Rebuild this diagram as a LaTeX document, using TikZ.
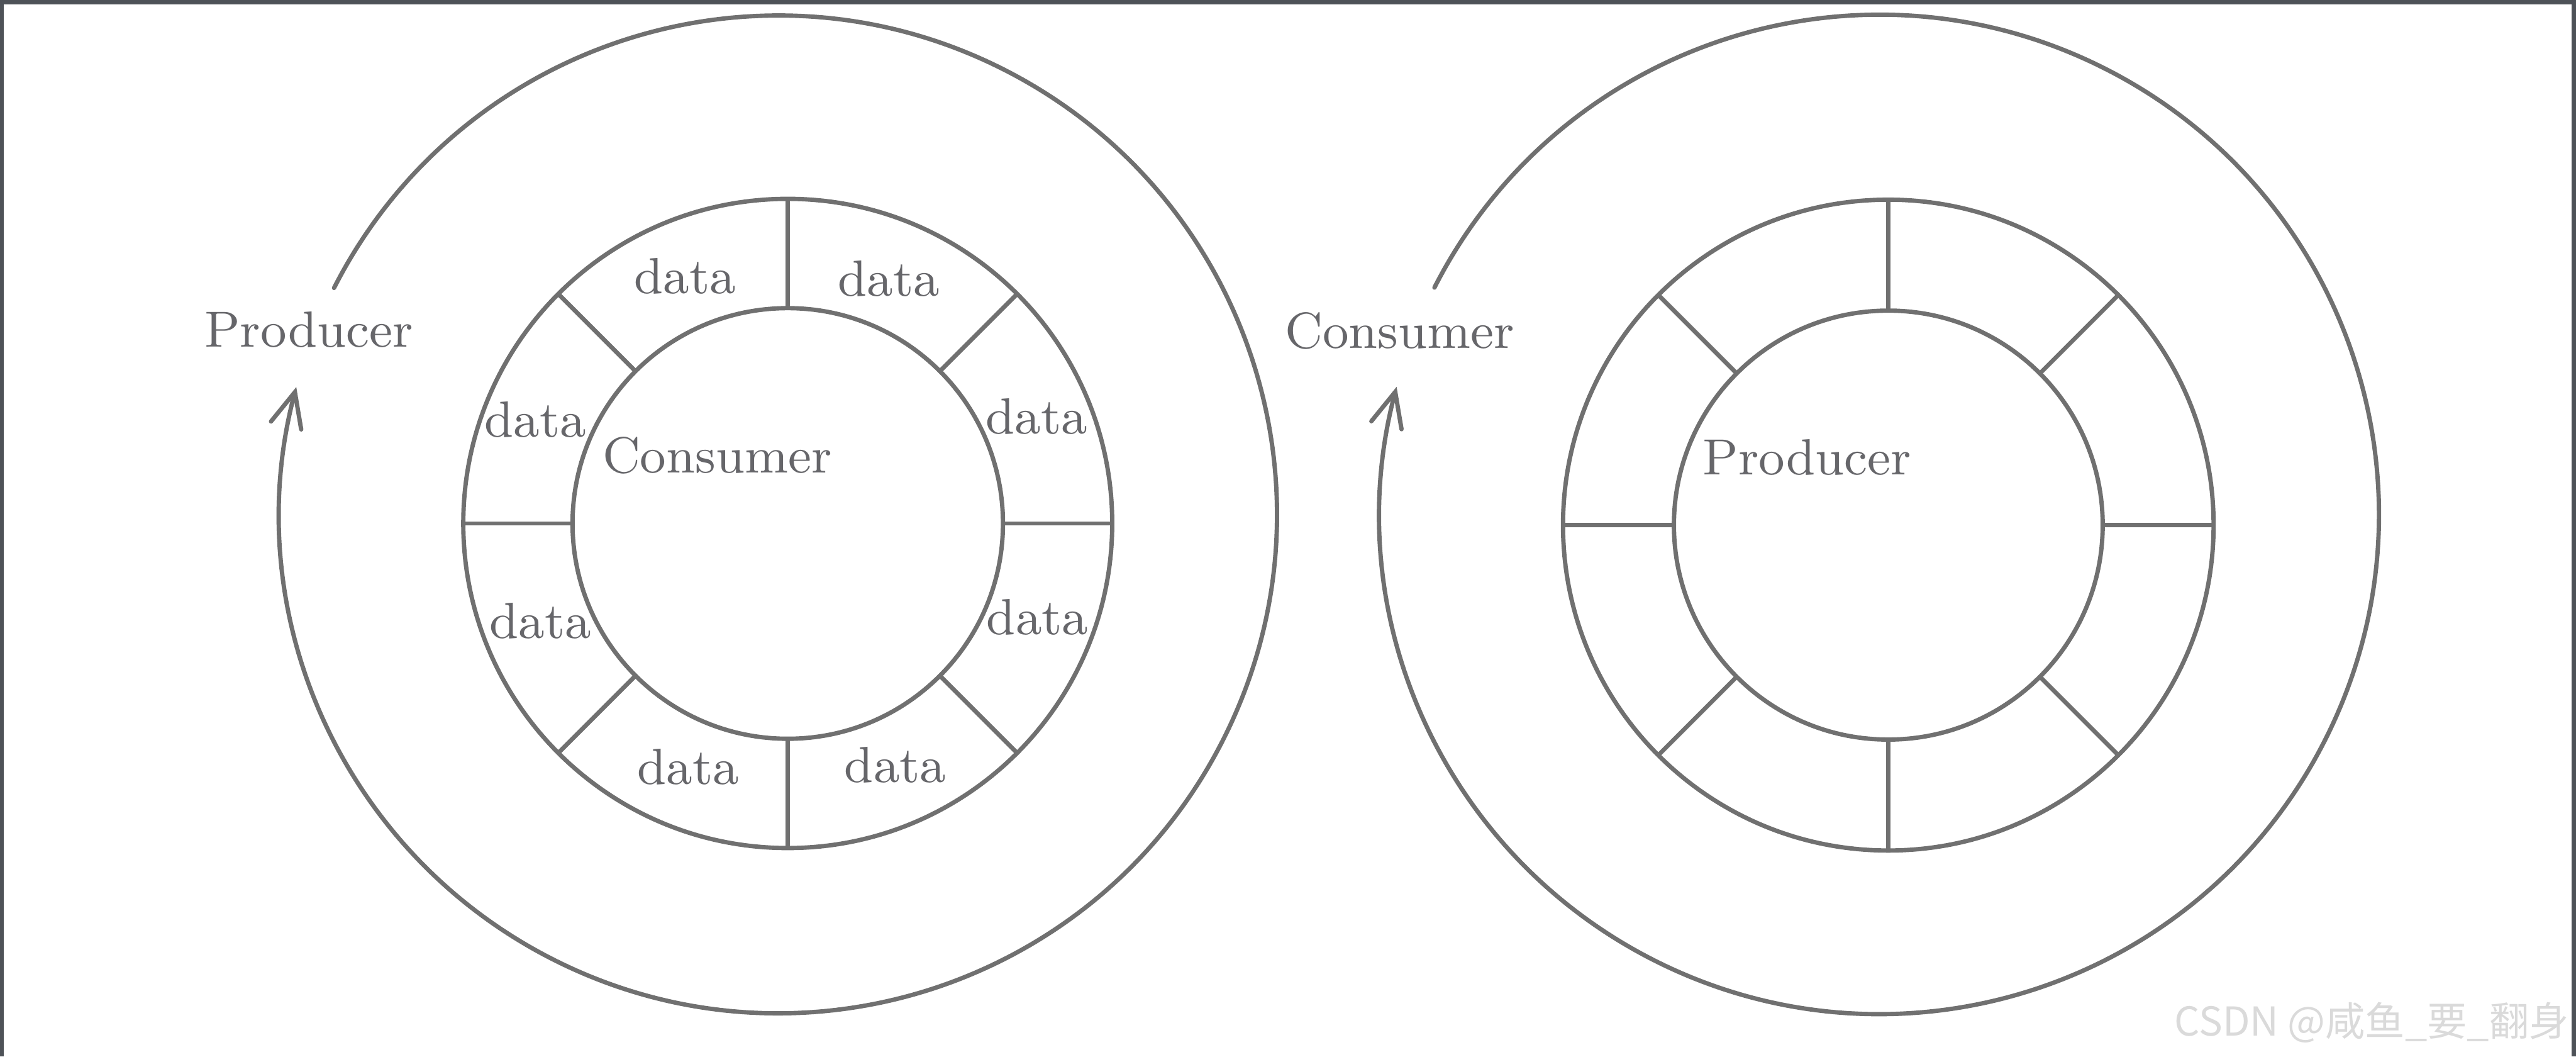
\documentclass[tikz,border=0pt]{standalone}
\usepackage{fontspec}
\newfontfamily\cjk{Noto Sans CJK SC}
\usetikzlibrary{arrows.meta,calc}
\definecolor{linegray}{RGB}{112,112,112}
\definecolor{textgray}{RGB}{102,102,106}
\definecolor{framegray}{RGB}{78,82,88}
\definecolor{markgray}{RGB}{218,218,218}
\begin{document}
\begin{tikzpicture}[x=0.1mm,y=-0.1mm,
  ring/.style={draw=linegray, line width=0.75pt},
  flow/.style={ring, line cap=round, -{Straight Barb[length=2.1mm,width=1.9mm,line cap=round]}},
  lbl/.style={text=textgray, font=\fontsize{8.8}{10}\selectfont, anchor=base, inner sep=0pt},
  wmark/.style={text=markgray, font=\cjk\fontsize{6.9}{8}\selectfont, anchor=base east, inner sep=0pt}
]
\useasboundingbox (0,0) rectangle (1568,642.8);
\fill[white] (0,0) rectangle (1568,642.8);
% frame edges of the screenshot
\fill[framegray] (0,0) rectangle (1568,2.5);
\fill[framegray] (0,0) rectangle (2.2,642.8);
\fill[framegray] (1565.2,0) rectangle (1568,642.8);

% centres
\coordinate (LB) at (473.75,313);
\coordinate (RB) at (1144,313);
\coordinate (LR) at (479.5,318.5);
\coordinate (RR) at (1149.4,319.5);

% big circular arrows
\draw[flow] ($(LB)+(-153:303.5)$) arc[start angle=-153, end angle=194.8, radius=303.5];
\draw[flow] ($(RB)+(-153:304)$) arc[start angle=-153, end angle=194.8, radius=304];

% ring buffers
\foreach \c/\ri/\ro in {LR/131/197.5, RR/130.5/198}{
  \draw[ring] (\c) circle[radius=\ri];
  \draw[ring] (\c) circle[radius=\ro];
  \foreach \a in {0,45,...,315}
    \draw[ring] ($(\c)+(\a:\ri)$) -- ($(\c)+(\a:\ro)$);
}

% labels, left
\node[lbl] (prodL) at (188,211) {Producer};
\node[lbl] (consL) at (436.6,287.6) {Consumer};
\node[lbl] (d1) at (417,178.5) {data};
\node[lbl] (d2) at (541,180) {data};
\node[lbl] (d3) at (631,264) {data};
\node[lbl] (d4) at (631.5,386) {data};
\node[lbl] (d5) at (545,476) {data};
\node[lbl] (d6) at (419,477) {data};
\node[lbl] (d7) at (329,388.5) {data};
\node[lbl] (d8) at (326,266) {data};

% labels, right
\node[lbl] (consR) at (852,212) {Consumer};
\node[lbl] (prodR) at (1100,289) {Producer};

% watermark
\node[wmark] (wm) at (1564.5,630.3) {CSDN @咸鱼\_要\_翻身};
\end{tikzpicture}
\end{document}
